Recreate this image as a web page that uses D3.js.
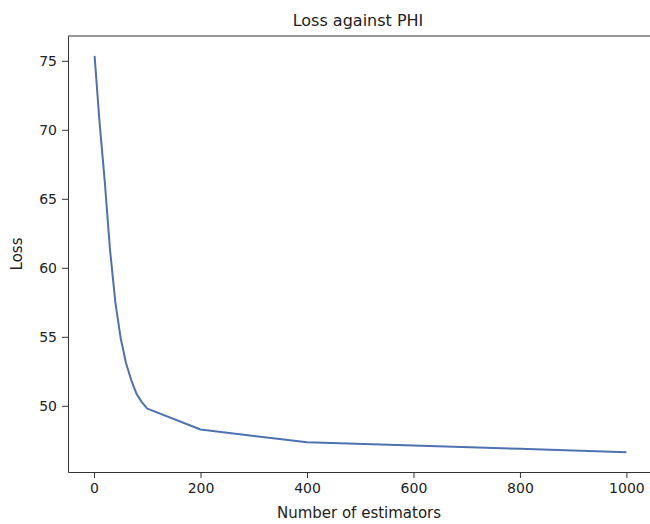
<!DOCTYPE html>
<html>
<head>
<meta charset="utf-8">
<script src="https://cdn.jsdelivr.net/npm/d3@7"></script>
<style>
  body { margin: 0; background: #fff; }
  text { font-family: "DejaVu Sans", sans-serif; fill: #222; }
</style>
</head>
<body>
<div id="chart"></div>
<script>
// number of estimators vs loss
const estimators = [1, 10, 20, 30, 40, 50, 60, 70, 80, 90, 100, 200, 400, 600, 800, 1000];
const loss = [75.36, 70.7, 66.3, 61.3, 57.5, 54.9, 53.1, 51.85, 50.85, 50.25, 49.8, 48.28, 47.36, 47.12, 46.88, 46.64];
const xTicks = [0, 200, 400, 600, 800, 1000];
const yTicks = [50, 55, 60, 65, 70, 75];

const W = 650, H = 524;
const margin = {top: 36, right: -3, bottom: 52, left: 68};
const width = W - margin.left - margin.right;
const height = H - margin.top - margin.bottom;

const svg = d3.select("#chart").append("svg")
  .attr("width", W).attr("height", H);

const g = svg.append("g")
  .attr("transform", `translate(${margin.left},${margin.top})`);

// matplotlib-style 5% padding
const pad = ([a, b]) => { const m = (b - a) * 0.05; return [a - m, b + m]; };

const x = d3.scaleLinear().domain(pad(d3.extent(estimators))).range([0, width]);
const y = d3.scaleLinear().domain(pad(d3.extent(loss))).range([height, 0]);

const xAxis = g.append("g")
  .attr("transform", `translate(0,${height})`)
  .call(d3.axisBottom(x).tickValues(xTicks).tickFormat(d3.format("d"))
    .tickSize(6).tickPadding(5).tickSizeOuter(0));
const yAxis = g.append("g")
  .call(d3.axisLeft(y).tickValues(yTicks).tickFormat(d3.format("d"))
    .tickSize(6).tickPadding(5).tickSizeOuter(0));

[xAxis, yAxis].forEach(a => {
  a.selectAll("text").style("font-size", "14px").attr("fill", "#222");
  a.selectAll("line").attr("stroke", "#333");
  a.select(".domain").attr("stroke", "#333");
});

// top spine
g.append("line")
  .attr("x1", 0).attr("x2", width).attr("y1", 0).attr("y2", 0)
  .attr("stroke", "#333");

const line = d3.line()
  .x((d, i) => x(estimators[i]))
  .y(d => y(d));

g.append("path")
  .datum(loss)
  .attr("fill", "none")
  .attr("stroke", "#4c72b0")
  .attr("stroke-width", 2)
  .attr("stroke-linejoin", "round")
  .attr("d", line);

svg.append("text")
  .attr("x", 358).attr("y", 26)
  .attr("text-anchor", "middle")
  .style("font-size", "16px")
  .text("Loss against PHI");

svg.append("text")
  .attr("x", 359).attr("y", 518)
  .attr("text-anchor", "middle")
  .style("font-size", "15px")
  .text("Number of estimators");

svg.append("text")
  .attr("transform", "translate(22,254) rotate(-90)")
  .attr("text-anchor", "middle")
  .style("font-size", "15px")
  .text("Loss");
</script>
</body>
</html>
